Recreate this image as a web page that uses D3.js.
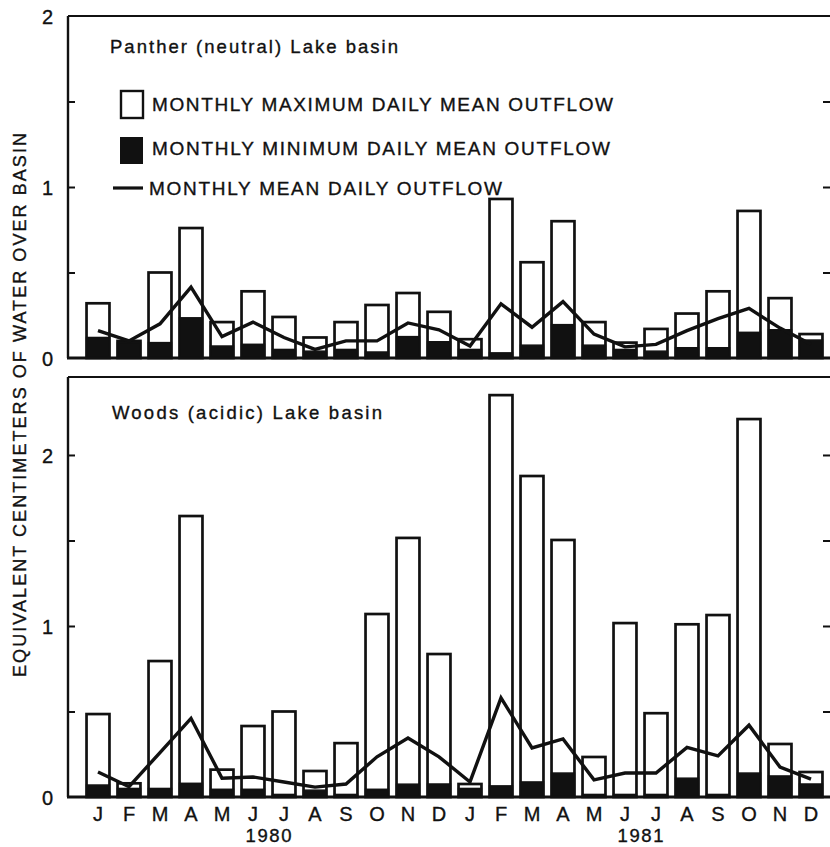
<!DOCTYPE html>
<html>
<head>
<meta charset="utf-8">
<script src="https://cdn.jsdelivr.net/npm/d3@7/dist/d3.min.js"></script>
<style>
  html, body { margin: 0; padding: 0; background: #fff; }
  svg { display: block; }
  text { font-family: "Liberation Sans", Arial, Helvetica, sans-serif; fill: #111; stroke: #111; stroke-width: 0.35px; }
</style>
</head>
<body>
<svg id="chart" width="830" height="847"></svg>
<script>
// ---- data ----
const months = ["J","F","M","A","M","J","J","A","S","O","N","D",
                "J","F","M","A","M","J","J","A","S","O","N","D"];
const years = ["1980", "1981"];

const pantherMax  = [0.32,0.10,0.50,0.76,0.21,0.39,0.24,0.12,0.21,0.31,0.38,0.27,
                     0.11,0.93,0.56,0.80,0.21,0.09,0.17,0.26,0.39,0.86,0.35,0.14];
const pantherMin  = [0.12,0.09,0.09,0.235,0.07,0.08,0.05,0.04,0.05,0.035,0.125,0.095,
                     0.05,0.03,0.075,0.195,0.075,0.05,0.04,0.06,0.06,0.15,0.165,0.105];
const pantherMean = [0.16,0.10,0.20,0.415,0.125,0.21,0.12,0.05,0.10,0.10,0.205,0.165,
                     0.07,0.317,0.18,0.33,0.14,0.065,0.08,0.16,0.23,0.29,0.175,0.08];

const woodsMax  = [0.485,0.08,0.795,1.643,0.16,0.415,0.50,0.152,0.315,1.07,1.515,0.836,
                   0.076,2.35,1.877,1.503,0.234,1.017,0.49,1.01,1.064,2.21,0.31,0.146];
const woodsMin  = [0.07,0.05,0.05,0.08,0.045,0.045,0.015,0.04,0.015,0.045,0.075,0.076,
                   0.05,0.065,0.088,0.14,0.015,0.015,0.015,0.11,0.015,0.14,0.123,0.076];
const woodsMean = [0.146,0.06,0.26,0.46,0.11,0.117,0.088,0.058,0.076,0.235,0.345,0.235,
                   0.088,0.58,0.287,0.34,0.10,0.14,0.14,0.29,0.24,0.42,0.175,0.105];

const topTicks = [0.5, 1, 1.5];
const topLabels = [0, 1, 2];
const botTicks = [0.5, 1, 1.5, 2];
const botLabels = [0, 1, 2];

const legendLabels = ["MONTHLY MAXIMUM DAILY MEAN OUTFLOW",
                      "MONTHLY MINIMUM DAILY MEAN OUTFLOW",
                      "MONTHLY MEAN DAILY OUTFLOW"];
const yTitle = "EQUIVALENT CENTIMETERS OF WATER OVER BASIN";

// ---- layout ----
const svg = d3.select("#chart");
const xLeft = 68, xRight = 831;
const idx = d3.range(months.length);
const x = d3.scaleBand().domain(idx).range([82.5, 826.5]).paddingInner(0.26).paddingOuter(0.13);

function panel(cfg) {
  const y = d3.scaleLinear().domain(cfg.domain).range(cfg.range);
  const g = svg.append("g");

  g.selectAll("rect.max").data(idx).join("rect")
    .attr("class", "max")
    .attr("x", i => x(i)).attr("width", x.bandwidth())
    .attr("y", i => y(cfg.max[i])).attr("height", i => y(0) - y(cfg.max[i]))
    .attr("fill", "#fff").attr("stroke", "#111").attr("stroke-width", 2.7);
  g.selectAll("rect.min").data(idx).join("rect")
    .attr("class", "min")
    .attr("x", i => x(i)).attr("width", x.bandwidth())
    .attr("y", i => y(cfg.min[i])).attr("height", i => y(0) - y(cfg.min[i]))
    .attr("fill", "#111").attr("stroke", "#111").attr("stroke-width", 1.5);
  const line = d3.line().x(i => x(i) + x.bandwidth() / 2).y(i => y(cfg.mean[i]));
  g.append("path").datum(idx).attr("d", line)
    .attr("fill", "none").attr("stroke", "#111").attr("stroke-width", 3.4)
    .attr("stroke-linejoin", "miter");

  const yTop = cfg.range[1], yBot = cfg.range[0];
  g.append("line").attr("x1", xLeft).attr("x2", xRight).attr("y1", yTop).attr("y2", yTop)
    .attr("stroke", "#111").attr("stroke-width", 2.2);
  g.append("line").attr("x1", xLeft).attr("x2", xLeft).attr("y1", yTop).attr("y2", yBot)
    .attr("stroke", "#111").attr("stroke-width", 2.4);
  g.append("line").attr("x1", xRight).attr("x2", xRight).attr("y1", yTop).attr("y2", yBot)
    .attr("stroke", "#111").attr("stroke-width", 2);
  g.append("line").attr("x1", xLeft - 1).attr("x2", xRight).attr("y1", yBot).attr("y2", yBot)
    .attr("stroke", "#111").attr("stroke-width", 3.2);

  const leftAxis = d3.axisRight(y).tickValues(cfg.ticks).tickSize(7).tickFormat("");
  g.append("g").attr("transform", `translate(${xLeft},0)`).call(leftAxis)
    .call(a => a.select(".domain").remove())
    .call(a => a.selectAll("line").attr("stroke", "#111").attr("stroke-width", 2));
  const rightAxis = d3.axisLeft(y).tickValues(cfg.ticks).tickSize(7).tickFormat("");
  g.append("g").attr("transform", `translate(${xRight - 1},0)`).call(rightAxis)
    .call(a => a.select(".domain").remove())
    .call(a => a.selectAll("line").attr("stroke", "#111").attr("stroke-width", 2));

  g.selectAll("text.tl").data(cfg.labels).join("text")
    .attr("class", "tl")
    .attr("x", 53).attr("y", v => y(v) + 3)
    .attr("text-anchor", "end").attr("dominant-baseline", "middle")
    .attr("font-size", 20).text(d => d);

  g.append("text").attr("x", cfg.titleX).attr("y", cfg.titleY)
    .attr("font-size", 18.5).attr("textLength", cfg.titleLen).attr("lengthAdjust", "spacing")
    .text(cfg.title);
  return y;
}

panel({
  domain: [0, 2], range: [358, 16],
  max: pantherMax, min: pantherMin, mean: pantherMean,
  ticks: topTicks, labels: topLabels,
  title: "Panther (neutral) Lake basin", titleX: 110, titleY: 53, titleLen: 288
});
panel({
  domain: [0, 2.456], range: [797, 377],
  max: woodsMax, min: woodsMin, mean: woodsMean,
  ticks: botTicks, labels: botLabels,
  title: "Woods (acidic) Lake basin", titleX: 112, titleY: 419, titleLen: 270
});

// legend
const lg = svg.append("g");
lg.append("rect").attr("x", 121).attr("y", 91).attr("width", 22).attr("height", 27)
  .attr("fill", "#fff").attr("stroke", "#111").attr("stroke-width", 2.4);
lg.append("rect").attr("x", 120).attr("y", 137).attr("width", 23).attr("height", 27)
  .attr("fill", "#111");
lg.append("line").attr("x1", 113).attr("x2", 143).attr("y1", 188).attr("y2", 188)
  .attr("stroke", "#111").attr("stroke-width", 3.2);
const legY = [111, 155, 195];
const legX = [152, 152, 149];
const legLen = [461, 458, 353];
legendLabels.forEach((t, k) => {
  lg.append("text").attr("x", legX[k]).attr("y", legY[k])
    .attr("font-size", 19).attr("textLength", legLen[k]).attr("lengthAdjust", "spacing")
    .text(t);
});

// month labels
svg.append("g").selectAll("text").data(idx).join("text")
  .attr("x", i => x(i) + x.bandwidth() / 2).attr("y", 821)
  .attr("text-anchor", "middle").attr("font-size", 20)
  .text(i => months[i]);
// year labels
svg.append("g").selectAll("text").data(years).join("text")
  .attr("x", (d, k) => (x(k * 12 + 5) + x(k * 12 + 6)) / 2 + x.bandwidth() / 2)
  .attr("y", 842).attr("text-anchor", "middle").attr("font-size", 18.5)
  .attr("textLength", 46).attr("lengthAdjust", "spacing")
  .text(d => d);

// y title
svg.append("text")
  .attr("transform", "translate(26,405) rotate(-90)")
  .attr("text-anchor", "middle").attr("font-size", 18)
  .attr("textLength", 544).attr("lengthAdjust", "spacing")
  .text(yTitle);
</script>
</body>
</html>
